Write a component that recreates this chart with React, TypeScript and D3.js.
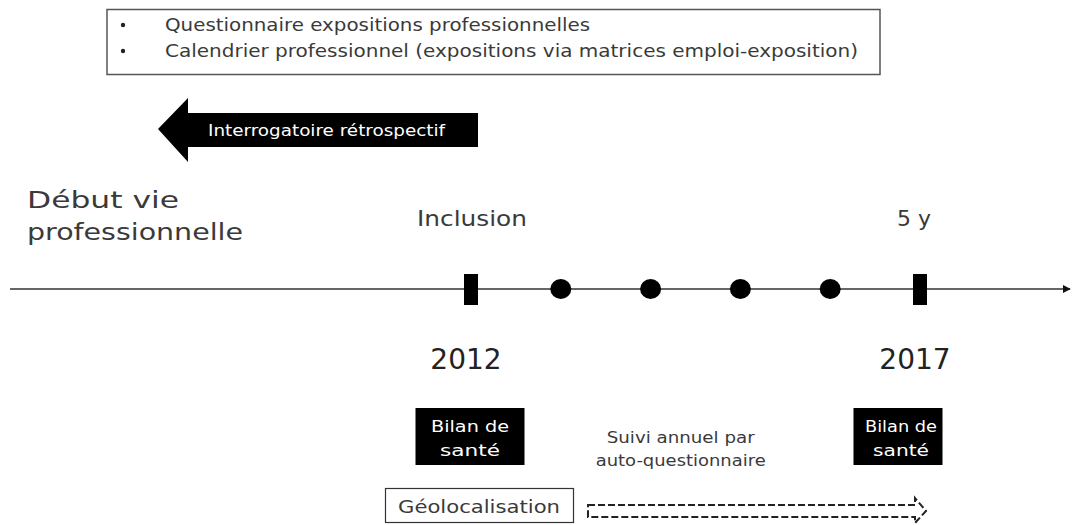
import React, { useEffect, useRef } from 'react';
import * as d3 from 'd3';

// content of the diagram
const bulletItems = [
    "Questionnaire expositions professionnelles",
    "Calendrier professionnel (expositions via matrices emploi-exposition)",
];
const retroLabel = "Interrogatoire rétrospectif";
const startLabel = ["Début vie", "professionnelle"];
const milestoneYears = [0, 5];
const milestoneTop = ["Inclusion", "5 y"];
const milestoneYearLabels = ["2012", "2017"];
const annualVisits = [1, 2, 3, 4];
const checkupLabel = ["Bilan de", "santé"];
const followUpLabel = ["Suivi annuel par", "auto-questionnaire"];
const geoLabel = "Géolocalisation";

const FONT = "'DejaVu Sans', sans-serif";
const TEXT = "#3a3a3a";

// the original font is wider than DejaVu, so stretch glyphs to the measured widths
function addText(parent, x, y, str, size, len, anchor = "start", fill = TEXT) {
    const t = parent.append("text")
        .attr("x", x).attr("y", y)
        .attr("font-size", size)
        .attr("fill", fill)
        .attr("text-anchor", anchor)
        .text(str);
    if (len) t.attr("textLength", len).attr("lengthAdjust", "spacingAndGlyphs");
    return t;
}

const App = () => {
    const svgRef = useRef<SVGSVGElement>(null);

    useEffect(() => {
        document.body.style.margin = "0";
        const svg = d3.select(svgRef.current);
        svg.selectAll("*").remove();

        const width = 1072;
        const height = 525;
        svg.attr("width", width).attr("height", height).style("font-family", FONT);

        const x = d3.scaleLinear().domain([0, 5]).range([471, 920]);
        const lineY = 289;

        // top box with bullets
        svg.append("rect")
            .attr("x", 107).attr("y", 9.5).attr("width", 773).attr("height", 65)
            .attr("fill", "none").attr("stroke", "#555").attr("stroke-width", 1.5);
        const bulletLens = [425, 693];
        bulletItems.forEach((t, i) => {
            const by = 31 + i * 26;
            svg.append("circle").attr("cx", 123).attr("cy", by - 6).attr("r", 2.2).attr("fill", "#222");
            addText(svg, 165, by, t, 17.5, bulletLens[i]);
        });

        // retrospective arrow (pointing left)
        const arrowPath = d3.path();
        arrowPath.moveTo(158, 129);
        arrowPath.lineTo(188, 98);
        arrowPath.lineTo(188, 113);
        arrowPath.lineTo(478, 113);
        arrowPath.lineTo(478, 147);
        arrowPath.lineTo(188, 147);
        arrowPath.lineTo(188, 162);
        arrowPath.closePath();
        svg.append("path").attr("d", arrowPath.toString()).attr("fill", "#000");
        addText(svg, 208, 136, retroLabel, 16, 237, "start", "#fff");

        // start of working life label
        const startLens = [152, 216];
        startLabel.forEach((t, i) => {
            addText(svg, 27, 208 + i * 32, t, 23.5, startLens[i]);
        });

        // timeline axis with arrow
        svg.append("defs").append("marker")
            .attr("id", "tip").attr("viewBox", "0 0 10 10")
            .attr("refX", 9).attr("refY", 5)
            .attr("markerWidth", 5).attr("markerHeight", 5)
            .attr("markerUnits", "strokeWidth").attr("orient", "auto")
            .append("path").attr("d", "M0,0L10,5L0,10Z").attr("fill", "#111");
        svg.append("line")
            .attr("x1", 10).attr("x2", 1070).attr("y1", lineY).attr("y2", lineY)
            .attr("stroke", "#333").attr("stroke-width", 1.6)
            .attr("marker-end", "url(#tip)");

        // annual follow-up dots
        svg.selectAll(".visit")
            .data(annualVisits)
            .enter()
            .append("ellipse")
            .attr("class", "visit")
            .attr("cx", d => x(d))
            .attr("cy", lineY)
            .attr("rx", 10.5)
            .attr("ry", 10)
            .attr("fill", "#000");

        // milestone bars
        svg.selectAll(".milestone")
            .data(milestoneYears)
            .enter()
            .append("rect")
            .attr("class", "milestone")
            .attr("x", d => x(d) - 7)
            .attr("y", lineY - 15)
            .attr("width", 14)
            .attr("height", 31)
            .attr("fill", "#000");

        // labels above / below milestones
        const topLens = [110, 34];
        milestoneYears.forEach((d, i) => {
            addText(svg, i === 0 ? x(d) + 1 : x(d) - 6, 226, milestoneTop[i], 21.5, topLens[i], "middle");
            addText(svg, x(d) - 5, 369, milestoneYearLabels[i], 28, 0, "middle", "#222");
        });

        // health check boxes
        const boxW = [109, 89];
        const boxShift = [-1, -22];
        const checkLens = [[78, 60], [72, 56]];
        milestoneYears.forEach((d, i) => {
            const cx = x(d) + boxShift[i];
            svg.append("rect")
                .attr("x", cx - boxW[i] / 2).attr("y", 408)
                .attr("width", boxW[i]).attr("height", 57)
                .attr("fill", "#000");
            checkupLabel.forEach((t, j) => {
                addText(svg, cx + (i === 0 ? 0 : 3), 432 + j * 24, t, 16.5, checkLens[i][j], "middle", "#fff");
            });
        });

        // annual follow-up text
        const followLens = [148, 170];
        followUpLabel.forEach((t, j) => {
            addText(svg, (x(1) + x(2)) / 2 + 75, 443 + j * 23, t, 16.5, followLens[j], "middle");
        });

        // geolocation box
        svg.append("rect")
            .attr("x", 385.5).attr("y", 488.5).attr("width", 188).attr("height", 34)
            .attr("fill", "#fff").attr("stroke", "#333").attr("stroke-width", 1.2);
        addText(svg, 398, 513, geoLabel, 18, 162);

        // dashed block arrow
        const dash = d3.path();
        dash.moveTo(588, 505);
        dash.lineTo(915, 505);
        dash.lineTo(915, 498);
        dash.lineTo(926, 511);
        dash.lineTo(915, 523);
        dash.lineTo(915, 517);
        dash.lineTo(588, 517);
        dash.closePath();
        svg.append("path").attr("d", dash.toString())
            .attr("fill", "none").attr("stroke", "#222")
            .attr("stroke-width", 2).attr("stroke-dasharray", "7,3");
    }, []);

    return <svg ref={svgRef}></svg>;
};

export default App;
